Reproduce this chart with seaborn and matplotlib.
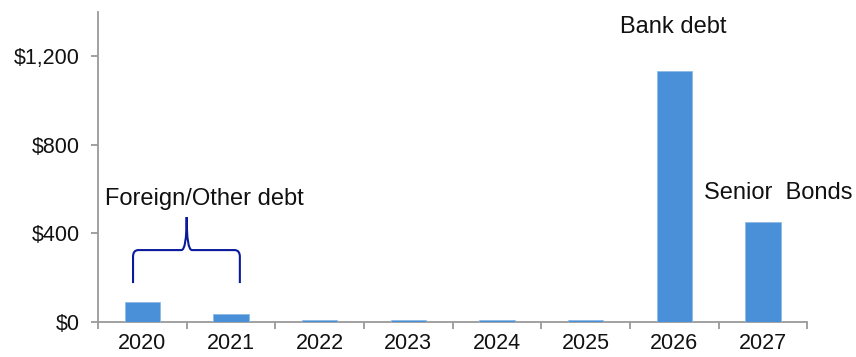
import matplotlib
matplotlib.use("Agg")
import matplotlib.pyplot as plt
import seaborn as sns
import pandas as pd
from matplotlib.path import Path
from matplotlib.patches import PathPatch
from matplotlib.ticker import FixedLocator, FuncFormatter

years = ["2020", "2021", "2022", "2023", "2024", "2025", "2026", "2027"]
amounts = [90, 37, 8, 8, 8, 8, 1132, 450]
yticks = [0, 400, 800, 1200]

sns.set_theme(style="white")
plt.rcParams['font.family'] = ['Liberation Sans', 'DejaVu Sans']

df = pd.DataFrame({"year": years, "amount": amounts})

fig = plt.figure(figsize=(8.56, 3.57), dpi=100)
ax = fig.add_axes([0.1145, 0.098, 0.8285, 0.868])

sns.barplot(data=df, x="year", y="amount", color="#4a90d9", width=0.4,
            saturation=1, edgecolor="#8fbbe8", linewidth=0.6, ax=ax)

ax.set_xlim(-0.5, 7.5)
ax.set_ylim(0, 1400)
ax.set_xlabel("")
ax.set_ylabel("")

for s in ["top", "right"]:
    ax.spines[s].set_visible(False)
for s in ["left", "bottom"]:
    ax.spines[s].set_color("#9a9a9a")
    ax.spines[s].set_linewidth(1.3)
ax.spines["bottom"].set_zorder(0.5)

ax.yaxis.set_major_locator(FixedLocator(yticks))
ax.yaxis.set_major_formatter(FuncFormatter(lambda v, p: "${:,.0f}".format(v)))
ax.tick_params(axis="y", direction="out", length=5, width=1.3, color="#9a9a9a",
               labelsize=15.5, labelcolor="#111111", pad=8, left=True)

ax.set_xticks(range(len(years)))
ax.set_xticklabels(years)
ax.set_xticks([i - 0.5 for i in range(len(years) + 1)], minor=True)
ax.tick_params(axis="x", which="major", length=0, labelsize=15.5,
               labelcolor="#111111", pad=8)
ax.tick_params(axis="x", which="minor", direction="out", length=5, width=1.3,
               color="#9a9a9a", bottom=True)

# brace annotation
bx0, bx1, bxm = -0.105, 1.1, 0.5
yb, yh, yp = 176, 325, 474
c = 0.06
verts = [
    (bx0, yb), (bx0, yh - 30), (bx0, yh), (bx0 + c, yh),
    (bxm - c, yh), (bxm, yh), (bxm, yp),
    (bxm, yh), (bxm + c, yh),
    (bx1 - c, yh), (bx1, yh), (bx1, yh - 30), (bx1, yb),
]
codes = [Path.MOVETO, Path.LINETO, Path.CURVE3, Path.CURVE3,
         Path.LINETO, Path.CURVE3, Path.CURVE3,
         Path.CURVE3, Path.CURVE3,
         Path.LINETO, Path.CURVE3, Path.CURVE3, Path.LINETO]
ax.add_patch(PathPatch(Path(verts, codes), fill=False, edgecolor="#0b1a9a",
                       linewidth=1.5, clip_on=False))

ax.text(0.7, 555, "Foreign/Other debt", ha="center", va="center",
        fontsize=17, color="#111111")
ax.text(5.99, 1335, "Bank debt", ha="center", va="center",
        fontsize=17, color="#111111")
ax.text(7.17, 582, "Senior  Bonds", ha="center", va="center",
        fontsize=17, color="#111111", clip_on=False)

fig.savefig("out.png", dpi=100)
